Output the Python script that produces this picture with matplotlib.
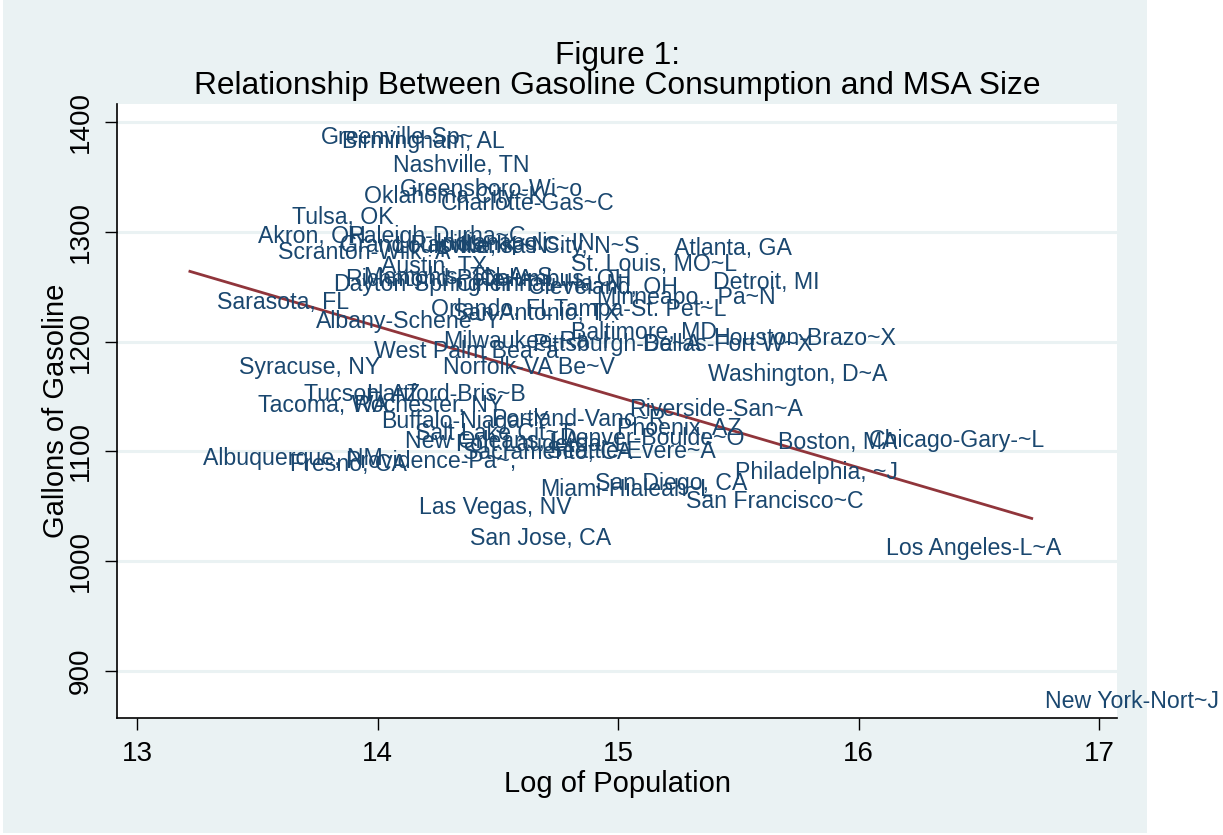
import matplotlib.pyplot as plt
from matplotlib.patches import Rectangle

plt.rcParams['font.family'] = ['Liberation Sans', 'DejaVu Sans']

# MSA labels, log population and gallons per capita
names = [
    'Greenville-Sp~', 'Birmingham, AL', 'Nashville, TN', 'Greensboro-Wi~o',
    'Oklahoma City~K', 'Charlotte-Gas~C', 'Tulsa, OK', 'Akron, OH',
    'Raleigh-Durha~C', 'Scranton-Wilk~A', 'Grand Rapids~I', 'Louisville, K~N',
    'Indianapolis, IN', 'Kansas City, N~S', 'Atlanta, GA', 'St. Louis, MO~L',
    'Austin, TX', 'Detroit, MI', 'Richmond-Pete~A', 'Dayton-Spring~H',
    'Memphis, TN-A~S', 'Columbus, OH', 'Cincinnati-Ha~N', 'Cleveland, OH',
    'Minneapo.. Pa~N', 'Sarasota, FL', 'Orlando, FL', 'San Antonio, TX',
    'Tampa-St. Pet~L', 'Albany-Schene~Y', 'Baltimore, MD', 'Houston-Brazo~X',
    'Dallas-Fort W~X', 'Pittsburgh-Be~A', 'Milwaukee-Ra~I', 'West Palm Bea~a',
    'Norfolk-VA Be~V', 'Washington, D~A', 'Syracuse, NY', 'Tucson, AZ',
    'Hartford-Bris~B', 'Tacoma, WA', 'Rochester, NY', 'Buffalo-Niaga~Y',
    'Portland-Vanc~R', 'Riverside-San~A', 'Phoenix, AZ', 'Salt Lake Cit~T',
    'New Orleans, LA', 'Denver-Boulde~O', 'Fort Lauderda~L', 'Sacramento, CA',
    'Seattle-Evere~A', 'Albuquerque, NM', 'Providence-Pa~,', 'Fresno, CA',
    'Boston, MA', 'Chicago-Gary-~L', 'Philadelphia, ~J', 'San Diego, CA',
    'Miami-Hialeah~L', 'San Francisco~C', 'Las Vegas, NV', 'San Jose, CA',
    'Los Angeles-L~A', 'New York-Nort~J',
]
log_pop = [
    13.71, 13.80, 14.01, 14.04, 13.89, 14.21, 13.59, 13.45,
    13.82, 13.53, 13.79, 14.02, 14.19, 14.29, 15.18, 14.75,
    13.96, 15.34, 13.81, 13.76, 13.89, 14.37, 14.27, 14.57,
    14.86, 13.28, 14.17, 14.26, 14.68, 13.69, 14.75, 15.34,
    15.05, 14.59, 14.22, 13.93, 14.22, 15.32, 13.37, 13.64,
    13.90, 13.45, 13.85, 13.96, 14.42, 14.99, 14.94, 14.10,
    14.06, 14.70, 14.27, 14.30, 14.65, 13.22, 13.81, 13.58,
    15.61, 15.99, 15.43, 14.85, 14.62, 15.23, 14.12, 14.33,
    16.06, 16.72,
]
gallons = [
    1386, 1382, 1360, 1339, 1332, 1326, 1313, 1296,
    1296, 1281, 1288, 1287, 1289, 1287, 1285, 1270,
    1268, 1254, 1257, 1252, 1258, 1257, 1252, 1249,
    1240, 1236, 1229, 1226, 1229, 1218, 1208, 1203,
    1197, 1197, 1200, 1191, 1176, 1170, 1176, 1152,
    1152, 1142, 1142, 1127, 1129, 1138, 1121, 1116,
    1109, 1112, 1106, 1099, 1100, 1094, 1091, 1088,
    1108, 1110, 1081, 1071, 1065, 1054, 1049, 1021,
    1012, 872,
]

# fitted line end points
fit_x = [13.22, 16.72]
fit_y = [1264, 1039]

navy = '#1a476f'
maroon = '#90353b'
bg = '#eaf2f3'

fig = plt.figure(figsize=(12.23, 8.35), dpi=100, facecolor='white')
fig.patches.append(Rectangle((0.0025, 0.0024), 0.9354, 0.9976,
                             transform=fig.transFigure, facecolor=bg,
                             edgecolor='none', zorder=-10))
ax = fig.add_axes([0.0957, 0.1401, 0.8177, 0.7353])
ax.set_facecolor('white')

for name, x, y in zip(names, log_pop, gallons):
    ax.annotate(name, (x, y), xytext=(9.4, 0), textcoords='offset points',
                ha='left', va='center', fontsize=16.7, color=navy,
                annotation_clip=False)

ax.plot(fit_x, fit_y, color=maroon, linewidth=2)

ax.set_xlim(12.917, 17.075)
ax.set_ylim(857.2, 1416.4)
ax.set_xticks([13, 14, 15, 16, 17])
ax.set_yticks([900, 1000, 1100, 1200, 1300, 1400])
ax.tick_params(axis='both', labelsize=20, length=8.5, width=1, pad=8)
plt.setp(ax.get_yticklabels(), rotation=90, va='center')
ax.grid(axis='y', color=bg, linewidth=2.2)
ax.set_axisbelow(True)
for side in ['top', 'right']:
    ax.spines[side].set_visible(False)
for side in ['left', 'bottom']:
    ax.spines[side].set_linewidth(1.2)

ax.set_xlabel('Log of Population', fontsize=21, labelpad=2)
ax.set_ylabel('Gallons of Gasoline', fontsize=21, labelpad=-1)
ax.set_title('Figure 1:\nRelationship Between Gasoline Consumption and MSA Size',
             fontsize=22.9, linespacing=1.0, pad=7)

fig.savefig('out.png', dpi=100, facecolor=fig.get_facecolor())
